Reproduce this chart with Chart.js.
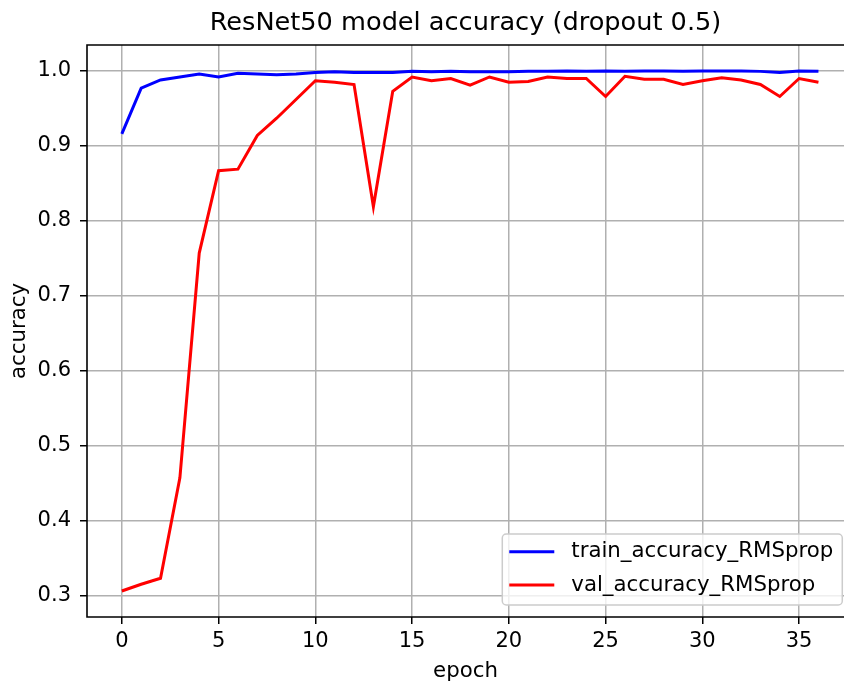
<!DOCTYPE html>
<html><head><meta charset="utf-8">
<script src="https://cdn.jsdelivr.net/npm/chart.js@4"></script>
<style>
html,body{margin:0;padding:0;background:#fff;overflow:hidden;width:844px;height:687px}
#wrap{width:844px;height:687px}
</style></head>
<body><div id="wrap"><canvas id="c" width="844" height="687"></canvas></div>
<script>
const epochs = [0,1,2,3,4,5,6,7,8,9,10,11,12,13,14,15,16,17,18,19,20,21,22,23,24,25,26,27,28,29,30,31,32,33,34,35,36];
const trainAccuracy = [0.916,0.977,0.988,0.992,0.996,0.992,0.997,0.996,0.995,0.996,0.998,0.999,0.998,0.998,0.998,0.9995,0.999,0.9995,0.999,0.999,0.999,0.9995,0.9995,1.0,0.9995,1.0,0.9995,1.0,1.0,0.9995,1.0,1.0,1.0,0.9995,0.998,1.0,0.9995];
const valAccuracy = [0.306,0.315,0.323,0.457,0.757,0.867,0.869,0.914,0.937,0.962,0.987,0.985,0.982,0.819,0.973,0.992,0.987,0.990,0.981,0.992,0.985,0.986,0.992,0.990,0.990,0.966,0.993,0.989,0.989,0.982,0.987,0.991,0.988,0.982,0.966,0.990,0.985];
const seriesLabels = ['train_accuracy_RMSprop','val_accuracy_RMSprop'];
const xTicks = [0,5,10,15,20,25,30,35];
const yTicks = [0.3,0.4,0.5,0.6,0.7,0.8,0.9,1.0];
const chartTitle = 'ResNet50 model accuracy (dropout 0.5)';
const xTitle = 'epoch';
const yTitle = 'accuracy';

const FAMILY = "'DejaVu Sans', sans-serif";
const X_AXIS_END = 37.8;   // full axes extent; the picture is cropped at the right
const toPts = arr => epochs.map((e,i)=>({x:e, y:arr[i]}));
function axesRight(chart){ return chart.scales.x.getPixelForValue(X_AXIS_END); }

const spinePlugin = {
  id:'spines',
  afterDatasetsDraw(chart){
    const {ctx, chartArea:a} = chart;
    const r = axesRight(chart);
    ctx.save();
    ctx.strokeStyle = '#000';
    ctx.lineWidth = 1.6;
    ctx.beginPath();
    ctx.moveTo(r, a.top); ctx.lineTo(a.left, a.top); ctx.lineTo(a.left, a.bottom); ctx.lineTo(r, a.bottom);
    ctx.stroke();
    ctx.restore();
  }
};

const legendPlugin = {
  id:'insideLegend',
  afterDraw(chart){
    const {ctx, chartArea:a} = chart;
    const ds = chart.data.datasets;
    ctx.save();
    ctx.font = '21.3px ' + FAMILY;
    let tw = 0;
    ds.forEach(d=>{ tw = Math.max(tw, ctx.measureText(d.label).width); });
    const w = 69 + tw + 9, h = 71;
    const x = axesRight(chart) - 11 - w, y = a.bottom - 12 - h;
    ctx.beginPath();
    ctx.roundRect(x, y, w, h, 4);
    ctx.fillStyle = 'rgba(255,255,255,0.8)';
    ctx.fill();
    ctx.strokeStyle = '#cccccc';
    ctx.lineWidth = 1.5;
    ctx.stroke();
    const rows = [17.7, 51];
    ds.forEach((d,i)=>{
      const cy = y + rows[i];
      ctx.beginPath();
      ctx.moveTo(x+7, cy); ctx.lineTo(x+52, cy);
      ctx.strokeStyle = d.borderColor; ctx.lineWidth = 3;
      ctx.stroke();
      ctx.fillStyle = '#000';
      ctx.textBaseline = 'middle';
      ctx.textAlign = 'left';
      ctx.fillText(d.label, x+69, cy);
    });
    ctx.restore();
  }
};

new Chart(document.getElementById('c'), {
  type:'line',
  data:{
    datasets:[
      {label:seriesLabels[0], data:toPts(trainAccuracy), borderColor:'#0000ff', backgroundColor:'#0000ff', borderWidth:3, pointRadius:0, tension:0, order:1},
      {label:seriesLabels[1], data:toPts(valAccuracy), borderColor:'#ff0000', backgroundColor:'#ff0000', borderWidth:3, pointRadius:0, tension:0, order:0}
    ]
  },
  options:{
    responsive:false, animation:false, devicePixelRatio:1,
    layout:{padding:0},
    plugins:{
      legend:{display:false},
      tooltip:{enabled:false},
      title:{display:true, text:chartTitle, fullSize:false, color:'#000', align:'center',
        font:{family:FAMILY, size:25.6, weight:'normal'}, padding:{top:8,bottom:6.28}}
    },
    scales:{
      x:{type:'linear', min:-1.8, max:37.32,
        afterBuildTicks:s=>{s.ticks = xTicks.map(v=>({value:v}));},
        afterFit:s=>{s.height = 70;},
        ticks:{color:'#000', font:{family:FAMILY,size:21}, padding:5, maxRotation:0, autoSkip:false, callback:v=>String(v)},
        grid:{color:'#b0b0b0', lineWidth:1.5, tickColor:'#000', tickLength:7, tickWidth:1.5},
        border:{display:false},
        title:{display:true, text:xTitle, color:'#000', font:{family:FAMILY,size:21.3}, padding:{top:0,bottom:3.2}}
      },
      y:{type:'linear', min:0.2713, max:1.0347,
        afterBuildTicks:s=>{s.ticks = yTicks.map(v=>({value:v}));},
        afterFit:s=>{s.width = 87;},
        ticks:{color:'#000', font:{family:FAMILY,size:21}, padding:9, autoSkip:false, callback:v=>Number(v).toFixed(1)},
        grid:{color:'#b0b0b0', lineWidth:1.5, tickColor:'#000', tickLength:7, tickWidth:1.5},
        border:{display:false},
        title:{display:true, text:yTitle, color:'#000', font:{family:FAMILY,size:21.3}, padding:{top:6.7,bottom:0}}
      }
    }
  },
  plugins:[spinePlugin, legendPlugin]
});
</script>
</body></html>
